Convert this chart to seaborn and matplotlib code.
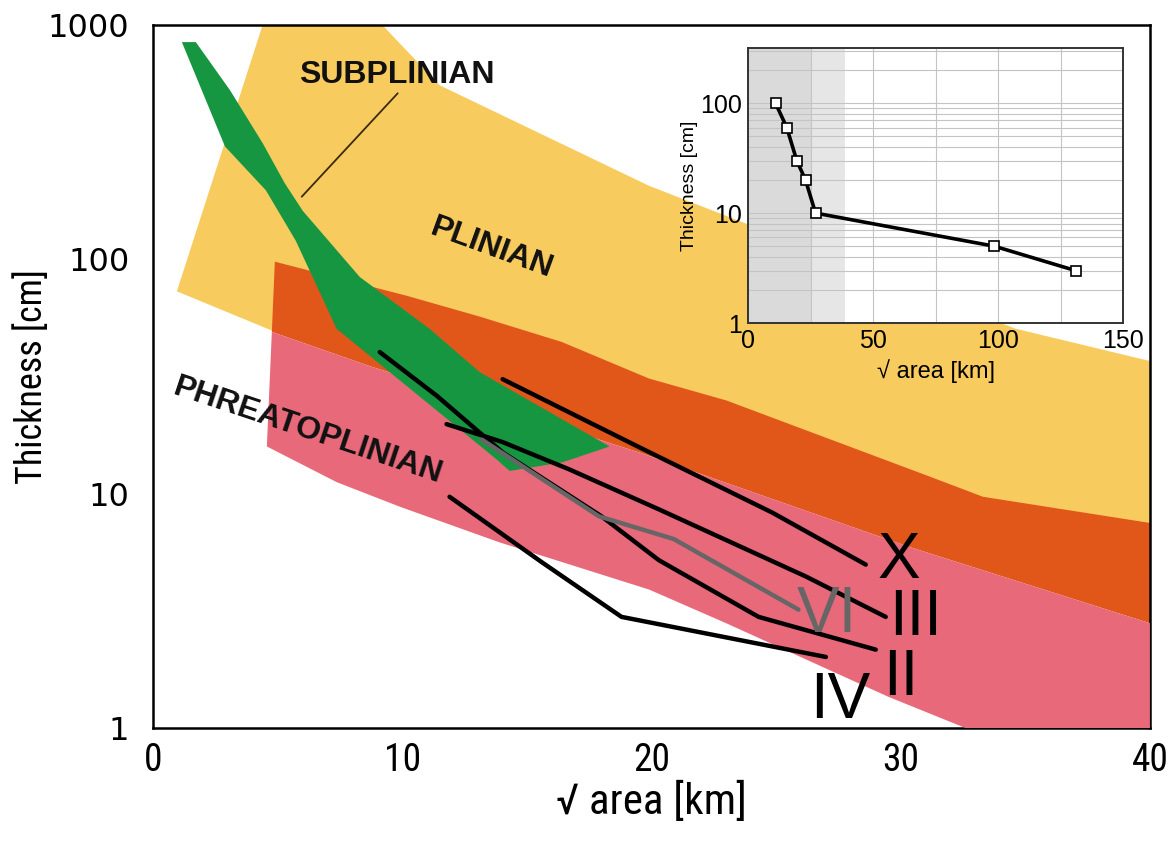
import matplotlib
matplotlib.use("Agg")
import matplotlib.pyplot as plt
import seaborn as sns
from matplotlib import font_manager
from matplotlib.ticker import FixedLocator, NullLocator, LogLocator, NullFormatter

# 区域边界 (√area [km], thickness [cm])
plinian_x = [0.96, 4.4, 9.2, 11.5, 19.9, 34.6, 40.0, 40.0, 20.0, 4.8]
plinian_y = [73, 1000, 1000, 553, 206, 50.6, 36.8, 5.0, 20.0, 49.5]

orange_top_x = [4.89, 10.2, 13.1, 16.4, 19.9, 23.0, 31.1, 33.3, 40.0]
orange_top_y = [97.7, 69.8, 57, 44.4, 31, 25, 11.9, 9.7, 7.5]

pink_top_x = [4.77, 8.7, 19.5, 30.4, 40.0]
pink_top_y = [49, 35, 15, 5.9, 2.8]
pink_bot_x = [4.57, 7.37, 9.9, 13.9, 19.9, 23.0, 29.5, 40.0]
pink_bot_y = [15.9, 11.2, 8.8, 6.2, 3.9, 2.8, 1.36, 0.48]

subplinian_x = [1.16, 1.72, 3.09, 4.41, 5.29, 6.01, 8.30, 11.10, 13.11, 18.32,
                16.43, 14.31, 13.79, 7.37, 5.73, 4.53, 2.89]
subplinian_y = [845, 845, 527, 312, 211, 161, 84, 50.5, 33, 15.9,
                13.6, 12.5, 14.0, 50.5, 120, 197, 303]

# 各层的厚度曲线
curves = {
    "X":   ([14.03, 19.5, 24.85, 28.6], [30.8, 15.8, 8.3, 4.98]),
    "III": ([11.78, 14.03, 16.7, 20.3, 26.2, 29.4], [19.8, 16.6, 12.7, 8.57, 4.43, 2.98]),
    "II":  ([9.1, 11.4, 14.03, 18.0, 20.3, 24.3, 29.0], [40.2, 26.1, 15.0, 8.0, 5.2, 2.98, 2.16]),
    "IV":  ([11.9, 15.6, 18.8, 27.0], [9.7, 5.1, 2.98, 2.01]),
    "VI":  ([13.2, 17.9, 20.9, 25.9], [17, 8.0, 6.4, 3.2]),
}
curve_colors = {"X": "black", "III": "black", "II": "black", "IV": "black", "VI": "#666666"}
label_pos = {"X": (29.94, 4.38), "III": (30.58, 2.50), "II": (30.02, 1.38),
             "IV": (27.58, 1.10), "VI": (27.05, 2.58)}

pointer_x = [9.82, 5.97]
pointer_y = [511, 185]

# 插图数据
inset_x = [11, 15.5, 19.5, 23, 27, 98.5, 131]
inset_y = [100, 60, 30, 20, 10, 5, 3]

x_ticks = [0, 10, 20, 30, 40]
y_ticks = [1, 10, 100, 1000]
y_tick_labels = ["1", "10", "100", "1000"]

YELLOW = "#F8CB5E"
ORANGE = "#E1571A"
PINK = "#E8697A"
GREEN = "#179641"

sns.set_theme(style="white")
names = {f.name for f in font_manager.fontManager.ttflist}
narrow = "Liberation Sans"
for cand in ["Liberation Sans Narrow", "Roboto Condensed", "Open Sans Condensed",
             "DejaVu Sans Condensed"]:
    if cand in names:
        narrow = cand
        break
plt.rcParams["font.family"] = ["Liberation Sans", "DejaVu Sans"]
for k in ["text.color", "axes.labelcolor", "xtick.color", "ytick.color"]:
    plt.rcParams[k] = "black"

fig = plt.figure(figsize=(11.73, 8.43), dpi=100)
ax = fig.add_axes([0.1304, 0.1364, 0.8499, 0.834])
ax.set_yscale("log")

ax.fill(plinian_x, plinian_y, color=YELLOW, lw=0, zorder=1)
ax.fill(orange_top_x + pink_top_x[::-1], orange_top_y + pink_top_y[::-1], color=ORANGE, lw=0, zorder=2)
ax.fill(pink_top_x + pink_bot_x[::-1], pink_top_y + pink_bot_y[::-1], color=PINK, lw=0, zorder=3)
ax.fill(subplinian_x, subplinian_y, color=GREEN, lw=0, zorder=4)

for name, (cx, cy) in curves.items():
    sns.lineplot(x=cx, y=cy, sort=False, estimator=None, ax=ax,
                 color=curve_colors[name], lw=3.2, zorder=5)
    lx, ly = label_pos[name]
    ax.text(lx, ly, name, ha="center", va="baseline", fontsize=46,
            color=curve_colors[name], zorder=6)

ax.plot(pointer_x, pointer_y, color="#3a2a10", lw=1.3, zorder=6)

bold = dict(fontweight="bold", fontsize=23, color="#111111", zorder=6)
ax.text(9.78, 564, "SUBPLINIAN", ha="center", va="baseline", **bold)
ax.text(13.6, 111, "PLINIAN", ha="center", va="center", rotation=-20,
        rotation_mode="anchor", **bold)
ax.text(6.21, 18.5, "PHREATOPLINIAN", ha="center", va="center", rotation=-18.5,
        rotation_mode="anchor", **bold)

ax.set_xlim(0, 40)
ax.set_ylim(1, 1000)
ax.xaxis.set_major_locator(FixedLocator(x_ticks))
ax.yaxis.set_major_locator(FixedLocator(y_ticks))
ax.yaxis.set_minor_locator(NullLocator())
ax.set_yticklabels(y_tick_labels, fontfamily="DejaVu Sans", fontsize=23)
ax.set_xticklabels([str(t) for t in x_ticks], fontfamily=narrow, fontsize=27)
ax.tick_params(axis="both", direction="in", length=16, width=1.6, color="black")
ax.tick_params(axis="y", pad=17)
ax.tick_params(axis="x", pad=10)
for s in ax.spines.values():
    s.set_color("black")
    s.set_linewidth(1.8)
ax.set_xlabel("√ area [km]", fontfamily=narrow, fontsize=31)
ax.set_ylabel("Thickness [cm]", fontfamily=narrow, fontsize=26)
ax.xaxis.set_label_coords(0.5, -0.077)
ax.yaxis.set_label_coords(-0.103, 0.5)

# 插图
ax2 = fig.add_axes([0.6377, 0.6168, 0.3197, 0.326])
ax2.set_facecolor("white")
ax2.set_yscale("log")
ax2.axvspan(0, 25, color="#DADADA", lw=0, zorder=0)
ax2.axvspan(25, 38.7, color="#E6E6E6", lw=0, zorder=0)
sns.lineplot(x=inset_x, y=inset_y, sort=False, estimator=None, ax=ax2, color="black",
             lw=2.6, marker="s", markersize=7, markerfacecolor="white",
             markeredgecolor="black", markeredgewidth=1.2, zorder=5)
ax2.set_xlim(0, 150)
ax2.set_ylim(1, 316)
ax2.xaxis.set_major_locator(FixedLocator([0, 50, 100, 150]))
ax2.xaxis.set_minor_locator(FixedLocator([25, 75, 125]))
ax2.yaxis.set_major_locator(FixedLocator([1, 10, 100]))
ax2.yaxis.set_minor_locator(LogLocator(base=10, subs=range(2, 10)))
ax2.yaxis.set_minor_formatter(NullFormatter())
ax2.set_yticklabels(["1", "10", "100"])
ax2.grid(True, which="both", color="#C4C4C4", lw=0.8, zorder=1)
ax2.set_axisbelow(True)
ax2.tick_params(axis="both", which="major", direction="in", length=5, width=1, labelsize=18, pad=4)
ax2.tick_params(axis="both", which="minor", direction="in", length=3, width=0.8)
for s in ax2.spines.values():
    s.set_color("#333333")
    s.set_linewidth(1.4)
ax2.set_xlabel("√ area [km]", fontsize=17, labelpad=5)
ax2.set_ylabel("Thickness [cm]", fontsize=14, labelpad=2)

fig.savefig("out.png", dpi=100)
